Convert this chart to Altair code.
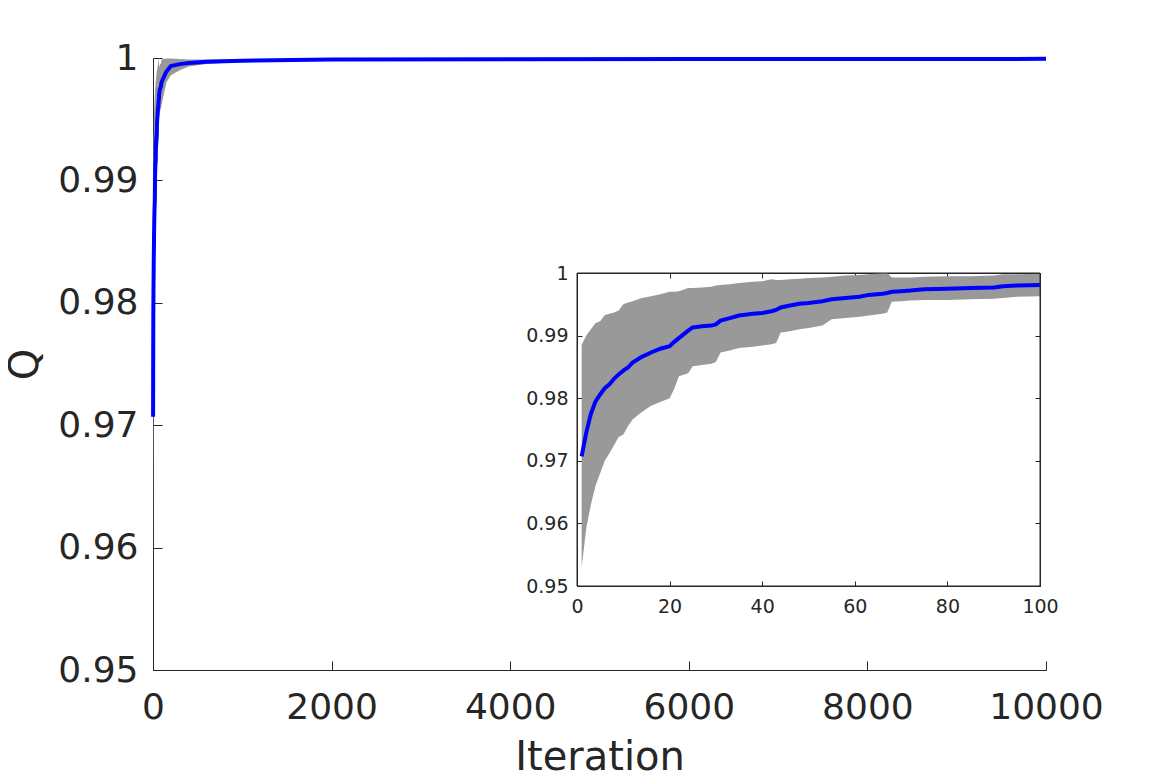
import altair as alt
import pandas as pd

# ---- data ----
iters = [1, 2, 3, 4, 5, 6, 7, 8, 9, 10, 11, 12, 14, 16, 18, 20, 21, 22, 24, 25,
         27, 29, 30, 31, 33, 35, 38, 40, 42, 43, 44, 46, 48, 50, 53, 55, 58, 61,
         63, 66, 67, 68, 70, 72, 75, 80, 85, 90, 92, 95, 100]
mean_q = [.9707, .9745, .9775, .9795, .9806, .9816, .9822, .9831, .9838, .9844,
          .9849, .9857, .9866, .9873, .9879, .9883, .9890, .9896, .9908, .9913,
          .9915, .9916, .9918, .9924, .9928, .9932, .9935, .9936, .9939, .9941,
          .9945, .9948, .9951, .9952, .9955, .9958, .9960, .9962, .9965, .9967,
          .9968, .9970, .9971, .9972, .9974, .9975, .9976, .9977, .9979, .9980,
          .9981]
upper_q = [.9885, .9900, .9910, .9920, .9923, .9933, .9935, .9937, .9940, .9950,
           .9953, .9955, .9960, .9963, .9966, .9970, .9970, .9971, .9976, .9976,
           .9977, .9978, .9980, .9981, .9982, .9984, .9986, .9987, .9990, .9989,
           .9989, .9990, .9991, .9992, .9993, .9994, .9996, .9997, .9998, 1.0000,
           1.0000, .9993, .9993, .9993, .9994, .9995, .9995, .9996, .9998, .9998,
           .9999]
lower_q = [.9530, .9592, .9630, .9660, .9680, .9700, .9712, .9725, .9738, .9742,
           .9755, .9766, .9778, .9788, .9794, .9800, .9815, .9835, .9840, .9851,
           .9853, .9855, .9858, .9873, .9876, .9880, .9882, .9884, .9886, .9888,
           .9905, .9907, .9910, .9912, .9916, .9926, .9928, .9930, .9932, .9935,
           .9937, .9954, .9955, .9956, .9957, .9957, .9958, .9959, .9960, .9962,
           .9963]

tail_iters = [150, 200, 300, 400, 600, 1000, 2000, 4000, 6000, 8000, 10000]
tail_mean = [.9989, .99935, .9995, .9996, .9997, .99978, .99987, .99990, .99991, .99992, .99993]
tail_lower = [.9980, .9986, .9990, .9993, .9995, .9997, .99983, .99987, .99989, .99990, .99991]
tail_upper = [.99995, .99995, .99992, .99988, .99987, .99990, .99992, .99993, .99994, .99995, .99996]

main_xticks = [0, 2000, 4000, 6000, 8000, 10000]
main_yticks = [0.95, 0.96, 0.97, 0.98, 0.99, 1.0]
inset_xticks = [0, 20, 40, 60, 80, 100]
inset_yticks = [0.95, 0.96, 0.97, 0.98, 0.99, 1.0]
inset_box = {"x0": [0], "x1": [100], "y0": [0.95], "y1": [1.0]}

inset_df = pd.DataFrame({"it": iters, "m": mean_q, "lo": lower_q, "hi": upper_q})
main_df = pd.DataFrame({
    "it": iters + tail_iters,
    "m": mean_q + tail_mean,
    "lo": lower_q + tail_lower,
    "hi": upper_q + tail_upper,
})
box_df = pd.DataFrame(inset_box)

# ---- layout constants ----
W, H = 893, 612
INS_L, INS_R, INS_T, INS_B = 424, 887, 215, 528
TXT = "#262626"
FONT = "DejaVu Sans"
GRAY = "#999999"
BLUE = "#0000ff"

xs_main = alt.Scale(domain=[0, 10000], nice=False, zero=False)
ys_main = alt.Scale(domain=[0.95, 1.0], nice=False, zero=False)
xs_ins = alt.Scale(domain=[0, 100], range=[INS_L, INS_R], nice=False, zero=False)
ys_ins = alt.Scale(domain=[0.95, 1.0], range=[INS_B, INS_T], nice=False, zero=False)

common = dict(grid=False, labelFont=FONT, titleFont=FONT, labelColor=TXT,
              titleColor=TXT, domainColor=TXT, tickColor=TXT, domainWidth=1,
              tickWidth=1, labelFlush=False, labelOverlap=False, labelBound=False)

def tick_axis(orient, offset, values, size, domain=False):
    return alt.Axis(orient=orient, offset=offset, values=values, labels=False,
                    ticks=True, tickSize=size, domain=domain, title="", **common)

# main axes
main_x_lab = alt.Axis(orient="bottom", values=main_xticks, ticks=False, tickSize=0,
                      labelFontSize=36, labelPadding=20, format="d",
                      title="Iteration", titleFontSize=40, titleFontWeight="normal",
                      titleY=99, titleBaseline="alphabetic", **common)
main_y_lab = alt.Axis(orient="left", values=main_yticks, ticks=False, tickSize=0,
                      labelFontSize=36, labelPadding=15, format=".2~f",
                      title="Q", titleFontSize=40, titleFontWeight="normal",
                      titleAngle=270, titleX=-116, titleY=H / 2,
                      titleBaseline="alphabetic", titleAlign="center", **common)

main_band = alt.Chart(main_df).mark_area(color=GRAY, opacity=1).encode(
    x=alt.X("it:Q", scale=xs_main, axis=main_x_lab),
    y=alt.Y("lo:Q", scale=ys_main, axis=main_y_lab),
    y2="hi:Q",
)
main_line = alt.Chart(main_df).mark_line(color=BLUE, strokeWidth=4).encode(
    x=alt.X("it:Q", scale=xs_main, axis=tick_axis("top", -H, main_xticks, 9)),
    y=alt.Y("m:Q", scale=ys_main, axis=tick_axis("right", -W, main_yticks, 9)),
)
main = alt.layer(main_band, main_line).resolve_axis(x="independent", y="independent")

# inset axes
ins_x_lab = alt.Axis(orient="bottom", offset=INS_B - H, values=inset_xticks,
                     ticks=False, tickSize=0, labelFontSize=19, labelPadding=11,
                     format="d", title="", **common)
ins_y_lab = alt.Axis(orient="left", offset=-INS_L, values=inset_yticks,
                     ticks=False, tickSize=0, labelFontSize=19, labelPadding=9,
                     format=".2~f", title="", **common)

ins_band = alt.Chart(inset_df).mark_area(color=GRAY, opacity=1).encode(
    x=alt.X("it:Q", scale=xs_ins, axis=ins_x_lab),
    y=alt.Y("lo:Q", scale=ys_ins, axis=ins_y_lab),
    y2="hi:Q",
)
ins_line = alt.Chart(inset_df).mark_line(color=BLUE, strokeWidth=4).encode(
    x=alt.X("it:Q", scale=xs_ins, axis=tick_axis("top", -INS_B, inset_xticks, 5)),
    y=alt.Y("m:Q", scale=ys_ins, axis=tick_axis("right", INS_L - W, inset_yticks, 5)),
)
ins_frame = alt.Chart(box_df).mark_rect(fill="transparent", stroke=TXT, strokeWidth=1).encode(
    x=alt.X("x0:Q", scale=xs_ins, axis=tick_axis("bottom", INS_T - H, inset_xticks, 5, True)),
    x2="x1:Q",
    y=alt.Y("y0:Q", scale=ys_ins, axis=tick_axis("left", -INS_R, inset_yticks, 5, True)),
    y2="y1:Q",
)
inset = alt.layer(ins_band, ins_line, ins_frame).resolve_axis(x="independent", y="independent")

chart = alt.layer(main, inset).resolve_scale(x="independent", y="independent").properties(
    width=W, height=H,
    autosize=alt.AutoSizeParams(type="none"),
    padding={"left": 145, "top": 50, "right": 100, "bottom": 103},
    background="white",
).configure_view(stroke=None)

chart.save("out.html", embed_options={"renderer": "svg", "actions": False})
